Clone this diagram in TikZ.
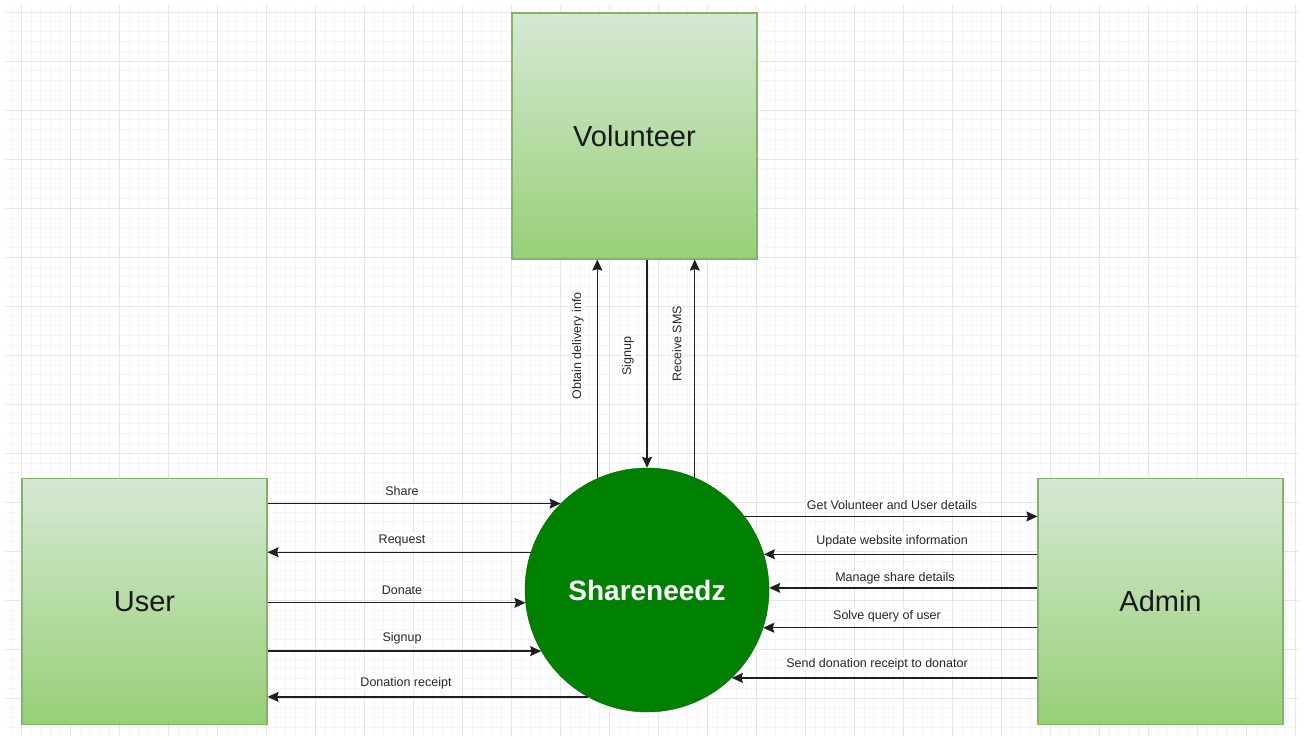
\documentclass[tikz,border=0pt]{standalone}
\usepackage{fontspec}
\setmainfont{Liberation Sans}
\usetikzlibrary{arrows.meta,calc}
\definecolor{gtop}{HTML}{D5E8D4}
\definecolor{gbot}{HTML}{97D077}
\definecolor{gstroke}{HTML}{82B366}
\definecolor{circfill}{HTML}{008000}
\definecolor{gridminor}{HTML}{F5F5F5}
\definecolor{gridmajor}{HTML}{E6E6E6}
\definecolor{linec}{HTML}{1E1E1E}
\begin{document}
\begin{tikzpicture}[x=1pt,y=-1pt,
 entity/.style={draw=gstroke, line width=1.2pt, top color=gtop, bottom color=gbot, minimum width=245pt, minimum height=246pt, inner sep=0pt, font=\fontsize{29}{34}\selectfont, text=black!90},
 proc/.style={circle, fill=circfill, draw=circfill!80!black, minimum size=244pt, inner sep=0pt, font=\fontsize{28}{32}\selectfont\bfseries, text=white},
 flow/.style={draw=linec, line width=1.3pt, -{Stealth[length=11pt,width=10pt,inset=1.5pt]}},
 lbl/.style={fill=white, inner sep=1pt, font=\fontsize{12.5}{14}\selectfont, text=black!85},
 minorgrid/.style={draw=gridminor, line width=0.6pt},
 majorgrid/.style={draw=gridmajor, line width=0.8pt},
]
\useasboundingbox (0,0) rectangle (1303,738);
\fill[white] (0,0) rectangle (1303,738);
% grid
\foreach \i in {-1,...,130} \draw[minorgrid] ({21+9.8*\i},5) -- ({21+9.8*\i},736);
\foreach \j in {0,...,73} \draw[minorgrid] (5,{12+9.8*\j}) -- (1298,{12+9.8*\j});
\foreach \i in {0,...,26} \draw[majorgrid] ({21+49*\i},5) -- ({21+49*\i},736);
\foreach \j in {0,...,14} \draw[majorgrid] (5,{12+49*\j}) -- (1298,{12+49*\j});

% entities
\node[entity] (vol) at (634.5,136) {Volunteer};
\node[entity] (user) at (144.5,601.5) {User};
\node[entity] (admin) at (1160.5,601.5) {Admin};
\node[proc] (circ) at (647,590) {Shareneedz};

% user flows
\draw[flow] (user.east |- circ.135) -- (circ.135);
\draw[flow] (circ.162) -- (user.east |- circ.162);
\draw[flow] (user.east |- circ.186) -- (circ.186);
\draw[flow] (user.east |- circ.210) -- (circ.210);
\draw[flow] (circ.241) -- (user.east |- circ.241);

% admin flows
\draw[flow] (circ.37) -- (admin.west |- circ.37);
\draw[flow] (admin.west |- circ.17) -- (circ.17);
\draw[flow] (admin.west |- circ.1) -- (circ.1);
\draw[flow] (admin.west |- circ.-18) -- (circ.-18);
\draw[flow] (admin.west |- circ.-46) -- (circ.-46);

% volunteer flows
\draw[flow] (circ.114) -- (circ.114 |- vol.south);
\draw[flow] (circ.north |- vol.south) -- (circ.north);
\draw[flow] (circ.67) -- (circ.67 |- vol.south);

% labels
\node[lbl] (l1) at (402,491) {Share};
\node[lbl] (l2) at (402,540) {Request};
\node[lbl] (l3) at (402,590) {Donate};
\node[lbl] (l4) at (402,638) {Signup};
\node[lbl] (l5) at (406,683) {Donation receipt};
\node[lbl] (r1) at (892,505) {Get Volunteer and User details};
\node[lbl] (r2) at (892,541) {Update website information};
\node[lbl] (r3) at (895,578) {Manage share details};
\node[lbl] (r4) at (887,616) {Solve query of user};
\node[lbl] (r5) at (877,664) {Send donation receipt to donator};
\node[lbl, rotate=90] (v1) at (578,346) {Obtain delivery info};
\node[lbl, rotate=90] (v2) at (628,356) {Signup};
\node[lbl, rotate=90] (v3) at (677,344) {Receive SMS};
\end{tikzpicture}
\end{document}
